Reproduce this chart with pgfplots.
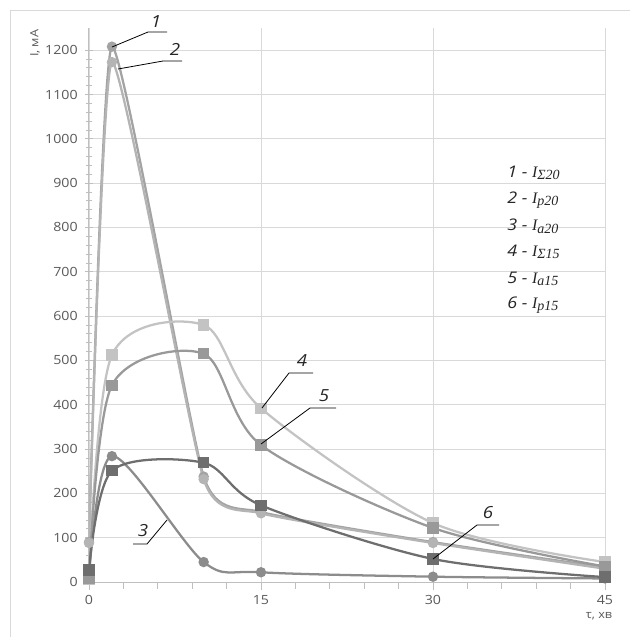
\documentclass[border=0pt]{standalone}
\usepackage{fontspec}
\setmainfont{Open Sans}[FakeStretch=1.12]
\newfontfamily\serifit{Liberation Serif}[ItalicFont=* Italic]
\usepackage{pgfplots}
\pgfplotsset{compat=1.18}

\definecolor{gridc}{HTML}{D9D9D9}
\definecolor{axc}{HTML}{BFBFBF}
\definecolor{txt}{HTML}{595959}
\definecolor{cA}{HTML}{A3A3A3}
\definecolor{cB}{HTML}{B4B4B4}
\definecolor{cC}{HTML}{8C8C8C}
\definecolor{cD}{HTML}{C3C3C3}
\definecolor{cE}{HTML}{999999}
\definecolor{cF}{HTML}{6E6E6E}

% tau in min; current in mA
\pgfplotstableread{
t   s20   p20   a20   s15   a15   p15
0   90    88    8     5     8     27
2   1208  1173  284   512   444   251
10  238   232   45    580   515   269
15  158   155   22    392   309   173
30  90    88    12    133   122   52
45  33    30    8     45    35    11
}\data

\newcommand{\legitem}[2]{\textit{#1 -} {\serifit\itshape I\raisebox{-0.35ex}{\fontsize{10.5}{11}\selectfont #2}}}

\begin{document}
\begin{tikzpicture}
\useasboundingbox (0,0) rectangle (472.5pt,-477.75pt);
\draw[gridc] (7.5pt,-490pt) -- (7.5pt,-7.5pt) -- (490pt,-7.5pt);

\begin{axis}[
  at={(66.75pt,-436.5pt)}, anchor=south west,
  scale only axis, width=387pt, height=415.5pt,
  xmin=0, xmax=45, ymin=0, ymax=1250,
  axis x line*=bottom, axis y line*=left,
  axis line style={axc, line width=0.75pt, -},
  xtick={0,15,30,45}, ytick={0,100,...,1200},
  minor x tick num=4, minor y tick num=4,
  xtick align=outside, ytick align=center,
  major tick length=6pt, minor tick length=5pt,
  tick style={axc, line width=0.6pt},
  grid=major, major grid style={gridc, line width=0.6pt},
  tick label style={font=\fontsize{9.5}{11}\selectfont, text=txt},
  /pgf/number format/assume math mode=true,
  /pgf/number format/1000 sep={},
  xticklabel style={yshift=-0.5pt},
  yticklabel style={xshift=-2pt},
  every axis plot/.append style={smooth, tension=0.5, line width=1.7pt},
]
\addplot[cA, mark=*, mark size=3pt, tension=0.3] table[x=t, y=s20] {\data};
\addplot[cB, mark=*, mark size=3pt, tension=0.3] table[x=t, y=p20] {\data};
\addplot[cC, mark=*, mark size=3pt] table[x=t, y=a20] {\data};
\addplot[cD, mark=square*, mark size=3.4pt] table[x=t, y=s15] {\data};
\addplot[cE, mark=square*, mark size=3.4pt] table[x=t, y=a15] {\data};
\addplot[cF, mark=square*, mark size=3.4pt] table[x=t, y=p15] {\data};
\end{axis}

\node[rotate=90, text=txt, font=\fontsize{8.5}{10}\selectfont] at (26.25pt,-32.5pt) {I, мА};
\node[text=txt, font=\fontsize{8.5}{10}\selectfont] at (449.25pt,-462.5pt) {τ, хв};

% legend
\begin{scope}[x=0.75pt, y=-0.75pt, every node/.style={anchor=west, inner sep=0pt, font=\fontsize{12}{13}\selectfont, text=black!85}]
\node at (507,173) {\legitem{1}{Σ20}};
\node at (507,200) {\legitem{2}{p20}};
\node at (507,226) {\legitem{3}{a20}};
\node at (507,252) {\legitem{4}{Σ15}};
\node at (507,279) {\legitem{5}{a15}};
\node at (507,305) {\legitem{6}{p15}};
\end{scope}

% curve labels
\begin{scope}[x=0.75pt, y=-0.75pt, line width=0.6pt, every node/.style={font=\itshape\fontsize{12.5}{13}\selectfont, text=black!85, inner sep=0pt}]
\draw (112,47) -- (148,32) -- (167,32);
\node at (156,22) {1};
\draw (118,69) -- (163,61) -- (182,61);
\node at (175,49) {2};
\draw (167,520) -- (147,544) -- (133,544);
\node at (143,531) {3};
\draw (262,408) -- (289,373) -- (313,373);
\node at (302,361) {4};
\draw (261,444) -- (310,408) -- (336,408);
\node at (324,396) {5};
\draw (433,559) -- (477,525) -- (499,525);
\node at (488,513) {6};
\end{scope}
\end{tikzpicture}
\end{document}
